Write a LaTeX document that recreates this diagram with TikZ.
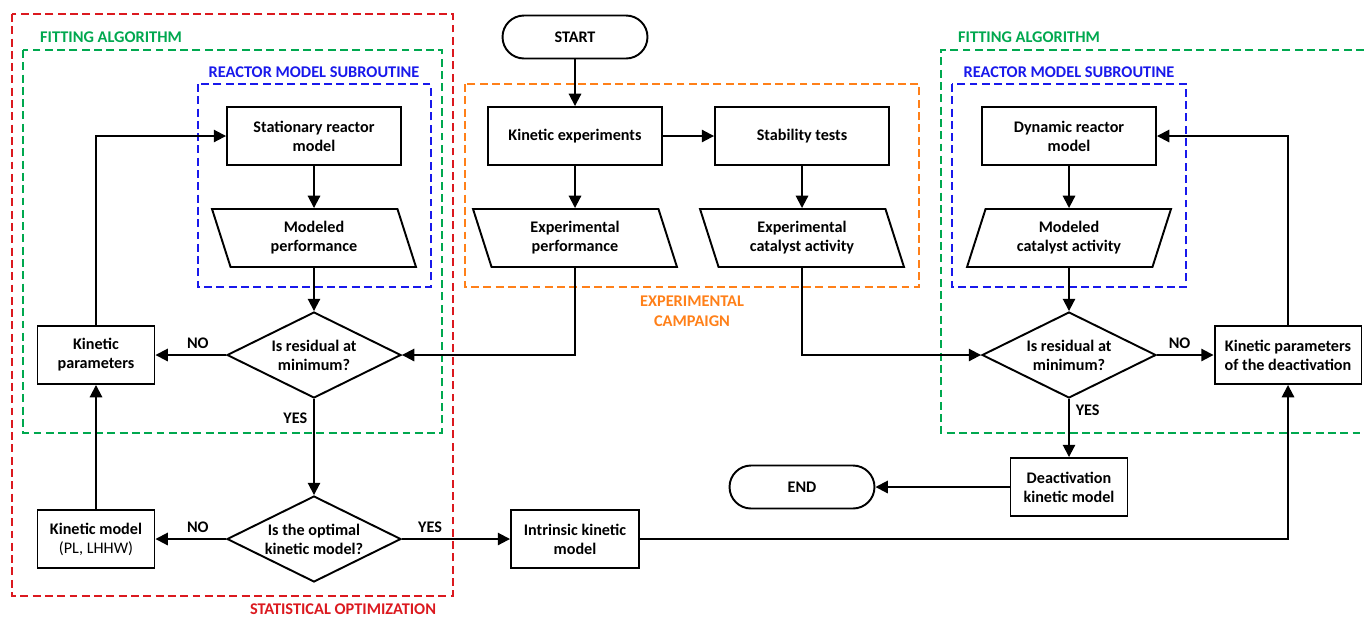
\documentclass[tikz,border=0pt]{standalone}
\usepackage{fontspec}
\setmainfont{Carlito}
\usepackage{tikz}
\usetikzlibrary{shapes.geometric, arrows.meta, positioning}
\definecolor{grpred}{rgb}{0.86,0.10,0.12}
\definecolor{grpgreen}{rgb}{0.0,0.66,0.31}
\definecolor{grpblue}{rgb}{0.10,0.10,0.92}
\definecolor{grporange}{rgb}{1.0,0.50,0.10}

\begin{document}
\begin{tikzpicture}[x=0.02cm, y=-0.02cm,
    every node/.style={font=\fontsize{9.2}{10.8}\selectfont\bfseries, align=center},
    proc/.style={draw, line width=1.1pt, minimum width=3.48cm, minimum height=1.16cm, inner sep=1pt},
    io/.style={draw, line width=1.1pt, trapezium, trapezium stretches body, minimum width=4.08cm, minimum height=1.16cm, inner sep=1pt},
    decision/.style={draw, line width=1.1pt, diamond, aspect=2, minimum width=3.48cm, minimum height=1.72cm, inner sep=0pt},
    term/.style={draw, line width=1.1pt, rounded corners=0.43cm, minimum width=2.9cm, minimum height=0.86cm},
    arr/.style={line width=1.1pt, -{Triangle[length=7pt, width=7pt]}},
    grp/.style={line width=1pt, dash pattern=on 4.5pt off 2.5pt},
    grplabel/.style={font=\fontsize{9.3}{11.5}\selectfont\bfseries}
]
    \useasboundingbox (0,0) rectangle (1364,616);

    % Group frames
    \draw[grp, grpred] (12,14) rectangle (453,596);
    \draw[grp, grpgreen] (23,50) rectangle (442,433);
    \draw[grp, grpblue] (198,84) rectangle (431,287);
    \draw[grp, grporange] (465,84) rectangle (919,287);
    \draw[grp, grpgreen] (1364,50) -| (941,433) -- (1364,433);
    \draw[grp, grpblue] (952,84) rectangle (1186,287);

    \node[grplabel, grpgreen] (fitL) at (111,37) {FITTING ALGORITHM};
    \node[grplabel, grpgreen] (fitR) at (1029,37) {FITTING ALGORITHM};
    \node[grplabel, grpblue] (subL) at (314,72) {REACTOR MODEL SUBROUTINE};
    \node[grplabel, grpblue] (subR) at (1069,72) {REACTOR MODEL SUBROUTINE};
    \node[grplabel, grporange] (camp) at (692,311) {EXPERIMENTAL\\CAMPAIGN};
    \node[grplabel, grpred] (stat) at (343,609) {STATISTICAL OPTIMIZATION};

    % Experimental campaign
    \node[term] (start) at (575,37) {START};
    \node[proc] (kexp) at (575,136) {Kinetic experiments};
    \node[proc] (stab) at (802,136) {Stability tests};
    \node[io, trapezium left angle=117, trapezium right angle=63] (expperf) at (575,238) {Experimental\\performance};
    \node[io, trapezium left angle=117, trapezium right angle=63] (expcat) at (802,238) {Experimental\\catalyst activity};

    % Kinetic fitting (left)
    \node[proc] (statm) at (314,136) {Stationary reactor\\model};
    \node[io, trapezium left angle=117, trapezium right angle=63] (modperf) at (314,238) {Modeled\\performance};
    \node[decision] (res1) at (314,355) {Is residual at\\minimum?};
    \node[proc, minimum width=2.34cm] (kpar) at (96,355) {Kinetic\\parameters};
    \node[decision] (opt) at (314,539) {Is the optimal\\kinetic model?};
    \node[proc, minimum width=2.34cm] (kmod) at (96,539) {Kinetic model\\\mdseries(PL, LHHW)};
    \node[proc, minimum width=2.56cm] (intr) at (575,539) {Intrinsic kinetic\\model};

    % Deactivation fitting (right)
    \node[proc] (dynm) at (1069,136) {Dynamic reactor\\model};
    \node[io, trapezium left angle=63, trapezium right angle=117] (modcat) at (1069,238) {Modeled\\catalyst activity};
    \node[decision] (res2) at (1069,355) {Is residual at\\minimum?};
    \node[proc, minimum width=2.94cm] (kdeact) at (1288,355) {Kinetic parameters\\of the deactivation};
    \node[proc, minimum width=2.34cm] (deact) at (1069,487) {Deactivation\\kinetic model};
    \node[term] (endt) at (802,487) {END};

    % Connectors
    \draw[arr] (start) -- (kexp);
    \draw[arr] (kexp) -- (stab);
    \draw[arr] (kexp) -- (expperf);
    \draw[arr] (stab) -- (expcat);
    \draw[arr] (expperf.south) |- (res1.east);
    \draw[arr] (expcat.south) |- (res2.west);

    \draw[arr] (statm) -- (modperf);
    \draw[arr] (modperf.south) -- (res1.north);
    \draw[arr] (res1.west) -- node[pos=0.4, above] {NO} (kpar.east);
    \draw[arr] (kpar.north) |- (statm.west);
    \draw[arr] (res1.south) -- node[pos=0.2, left] {YES} (opt.north);
    \draw[arr] (opt.west) -- node[pos=0.4, above] {NO} (kmod.east);
    \draw[arr] (kmod) -- (kpar);
    \draw[arr] (opt.east) -- node[pos=0.26, above] {YES} (intr.west);
    \draw[arr] (intr.east) -| (kdeact.south);

    \draw[arr] (dynm) -- (modcat);
    \draw[arr] (modcat.south) -- (res2.north);
    \draw[arr] (res2.east) -- node[pos=0.4, above] {NO} (kdeact.west);
    \draw[arr] (kdeact.north) |- (dynm.east);
    \draw[arr] (res2.south) -- node[pos=0.2, right] {YES} (deact.north);
    \draw[arr] (deact) -- (endt);
\end{tikzpicture}
\end{document}
